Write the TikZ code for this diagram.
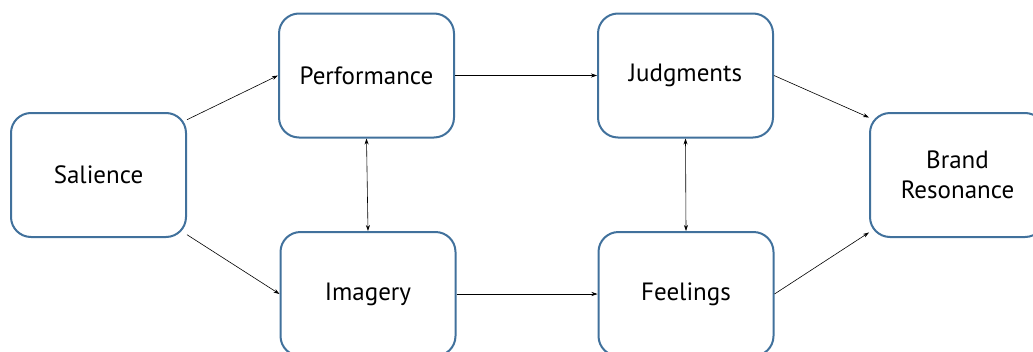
\documentclass[tikz,border=0pt]{standalone}
\usepackage{fontspec}
\setmainfont{PT Sans}
\usetikzlibrary{arrows.meta,positioning}
\definecolor{boxblue}{RGB}{65,113,156}

\begin{document}
\begin{tikzpicture}[x=1pt,y=-1pt]
  % Define styles
  \tikzset{stage/.style={draw=boxblue, line width=2pt, fill=white,
                         rounded corners=20pt, minimum width=175pt,
                         minimum height=124pt, align=center,
                         font=\fontsize{25}{30}\selectfont}}
  \tikzset{link/.style={line width=0.6pt, black, -{Stealth[length=6pt,width=4pt]}}}
  \tikzset{twoway/.style={line width=0.6pt, black,
                          {Stealth[length=6pt,width=4pt]}-{Stealth[length=6pt,width=4pt]}}}
  % Fix page size
  \useasboundingbox (0,0) rectangle (1033,351);

  % Draw boxes
  \node[stage] (sal) at (98.5,175) {Salience};
  \node[stage] (perf) at (366.5,75.5) {Performance};
  \node[stage] (imag) at (368,294) {Imagery};
  \node[stage] (judg) at (685.5,75.5) {Judgments};
  \node[stage] (feel) at (686,294) {Feelings};
  \node[stage] (res) at (957.5,175) {Brand\\Resonance};

  % Draw links
  \draw[link] (sal.32) -- (perf.west);
  \draw[link] (sal.-34) -- (imag.west);
  \draw[link] (perf.east) -- (judg.west);
  \draw[link] (imag.east) -- (feel.west);
  \draw[link] (judg.east) -- (res.147);
  \draw[link] (feel.east) -- (res.213);
  \draw[twoway] (perf.south) -- (imag.north);
  \draw[twoway] (judg.south) -- (feel.north);
\end{tikzpicture}
\end{document}
